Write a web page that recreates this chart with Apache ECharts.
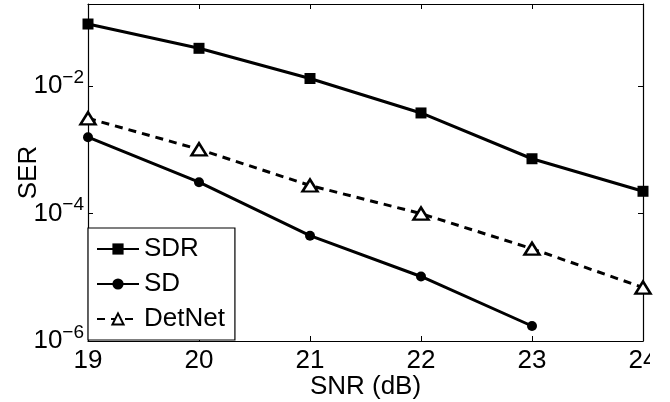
<!DOCTYPE html>
<html>
<head>
<meta charset="utf-8">
<script src="https://cdn.jsdelivr.net/npm/echarts@6/dist/echarts.min.js"></script>
<style>html,body{margin:0;padding:0;background:#fff;}#c{width:670px;height:402px;}</style>
</head>
<body>
<div id="c"></div>
<script>
const snr = [19, 20, 21, 22, 23, 24];
const serSDR = [0.0946, 0.0393, 0.0132, 0.0038, 7.26e-4, 2.24e-4];
const serSD = [1.58e-3, 3.11e-4, 4.5e-5, 1.03e-5, 1.72e-6];
const serDetNet = [3.13e-3, 1.02e-3, 2.76e-4, 1.0e-4, 2.81e-5, 6.9e-6];
const yMin = 1e-6, yMax = 0.195;

const FONT = 'Liberation Sans, Arial, Helvetica, sans-serif';
const FS = 26;

function pairs(xs, ys) { return ys.map((v, i) => [xs[i], v]); }

const chart = echarts.init(document.getElementById('c'), null, {renderer: 'canvas'});

function yLabel(v) {
  const e = Math.log10(v);
  const r = Math.round(e);
  if (Math.abs(e - r) > 1e-6) return '';
  return '{b|10}{s|' + (r < 0 ? '\u2212' + (-r) : r) + '}';
}

const axisLineStyle = {lineStyle: {color: '#000', width: 1.2}};

chart.setOption({
  animation: false,
  backgroundColor: '#fff',
  grid: {left: 88, right: 27, top: 4, bottom: 61, containLabel: false, outerBoundsMode: 'none'},
  xAxis: [{
    type: 'value', min: 19, max: 24, interval: 1, position: 'bottom',
    axisLine: axisLineStyle,
    axisTick: {inside: true, length: 5, lineStyle: {color: '#000'}},
    splitLine: {show: false},
    axisLabel: {color: '#000', fontFamily: FONT, fontSize: FS, margin: 7},
    name: 'SNR (dB)', nameLocation: 'middle', nameGap: 33, nameMoveOverlap: false,
    nameTextStyle: {color: '#000', fontFamily: FONT, fontSize: FS}
  }, {
    type: 'value', min: 19, max: 24, interval: 1, position: 'top',
    axisLine: axisLineStyle,
    axisTick: {inside: true, length: 5, lineStyle: {color: '#000'}},
    splitLine: {show: false},
    axisLabel: {show: false}
  }],
  yAxis: [{
    type: 'log', logBase: 100, min: yMin, max: yMax, position: 'left',
    axisLine: axisLineStyle,
    axisTick: {inside: true, length: 5, lineStyle: {color: '#000'}},
    splitLine: {show: false},
    minorTick: {show: false},
    axisLabel: {
      color: '#000', fontFamily: FONT, margin: 4, showMaxLabel: false,
      formatter: yLabel,
      rich: {
        b: {fontSize: FS, fontFamily: FONT, color: '#000', lineHeight: 36},
        s: {fontSize: 19, fontFamily: FONT, color: '#000', lineHeight: 19, verticalAlign: 'top'}
      }
    },
    name: 'SER', nameLocation: 'middle', nameGap: 46, nameMoveOverlap: false,
    nameTextStyle: {color: '#000', fontFamily: FONT, fontSize: FS}
  }, {
    type: 'log', logBase: 100, min: yMin, max: yMax, position: 'right',
    axisLine: axisLineStyle,
    axisTick: {inside: true, length: 5, lineStyle: {color: '#000'}},
    splitLine: {show: false},
    axisLabel: {show: false}
  }],
  legend: {
    left: 88, top: 228, orient: 'vertical',
    backgroundColor: '#fff', borderColor: '#000', borderWidth: 1.2,
    padding: [8, 10, 8, 8],
    itemWidth: 42, itemHeight: 14, itemGap: 9,
    textStyle: {color: '#000', fontFamily: FONT, fontSize: FS, lineHeight: 26},
    data: ['SDR', 'SD', 'DetNet']
  },
  graphic: [{
    type: 'rect', left: 650, top: 345, shape: {width: 20, height: 28},
    style: {fill: '#fff'}, z: 100, silent: true
  }],
  series: [{
    name: 'SDR', type: 'line', data: pairs(snr, serSDR),
    symbol: 'rect', symbolSize: 11,
    lineStyle: {color: '#000', width: 3},
    itemStyle: {color: '#000'}
  }, {
    name: 'SD', type: 'line', data: pairs(snr, serSD),
    symbol: 'circle', symbolSize: 10,
    lineStyle: {color: '#000', width: 3},
    itemStyle: {color: '#000'}
  }, {
    name: 'DetNet', type: 'line', data: pairs(snr, serDetNet),
    symbol: 'triangle', symbolSize: [15, 12],
    lineStyle: {color: '#000', width: 3, type: [8, 6]},
    itemStyle: {color: '#fff', borderColor: '#000', borderWidth: 2.5}
  }]
});
</script>
</body>
</html>
